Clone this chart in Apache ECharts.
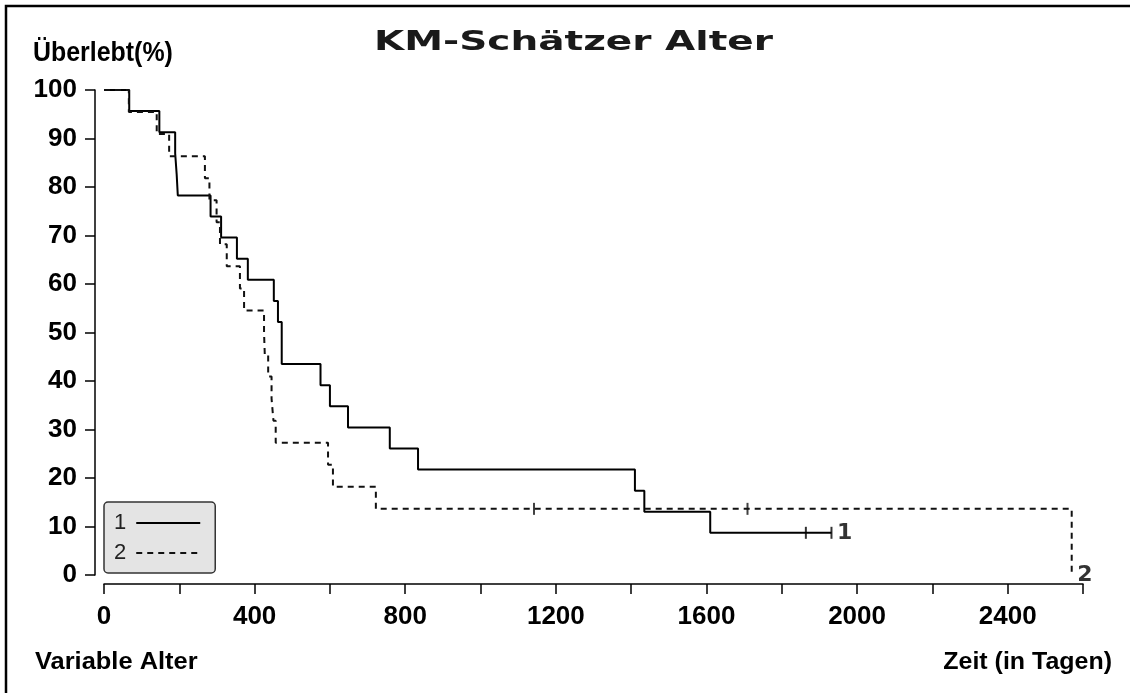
<!DOCTYPE html>
<html>
<head>
<meta charset="utf-8">
<script src="https://cdn.jsdelivr.net/npm/echarts@6/dist/echarts.min.js"></script>
<style>
  html, body { margin: 0; padding: 0; background: #fff; }
  #chart { width: 1130px; height: 693px; }
</style>
</head>
<body>
<div id="chart"></div>
<script>
// ---- Data ----
const titleText = 'KM-Schätzer Alter';
const yAxisTitle = 'Überlebt(%)';
const xAxisTitle = 'Zeit (in Tagen)';
const variableLabel = 'Variable Alter';
const groupNames = ['1', '2'];

// Group 1 (solid): event times (days) and survival (%)
const days1 = [0, 67, 147, 189, 193, 196, 283, 311, 353, 382, 451, 462, 472, 575, 600, 648, 759, 834, 1410, 1435, 1610, 1932];
const surv1 = [100, 95.65, 91.30, 86.96, 82.61, 78.26, 73.91, 69.57, 65.22, 60.87, 56.52, 52.17, 43.48, 39.13, 34.78, 30.43, 26.09, 21.74, 17.39, 13.04, 8.70, 8.70];
const cens1Days = [1864, 1932];
const cens1Surv = [8.70, 8.70];

// Group 2 (dashed)
const days2 = [0, 66, 140, 173, 268, 280, 299, 308, 326, 361, 372, 425, 427, 436, 445, 450, 456, 595, 608, 722, 2570];
const surv2 = [100, 95.45, 90.91, 86.36, 81.82, 77.27, 72.73, 68.18, 63.64, 59.09, 54.55, 50.00, 45.45, 40.91, 36.36, 31.82, 27.27, 22.73, 18.18, 13.64, 0];
const cens2Days = [1142, 1709];
const cens2Surv = [13.64, 13.64];

// Axis ticks
const xMin = 0, xMax = 2600, xTickStep = 200, xLabelStep = 400;
const yMin = 0, yMax = 100, yTickStep = 10;

// ---- Build ----
const zip = (a, b) => a.map((v, i) => [v, b[i]]);
const line1 = zip(days1, surv1);
const line2 = zip(days2, surv2);
const endLabels = [
  { value: [days1[days1.length - 1], surv1[surv1.length - 1]], name: groupNames[0] },
  { value: [days2[days2.length - 1], surv2[surv2.length - 1]], name: groupNames[1] }
];

const tickFont = '"Liberation Sans", Arial, sans-serif';

const chart = echarts.init(document.getElementById('chart'), null, { renderer: 'canvas' });
chart.setOption({
  animation: false,
  backgroundColor: '#ffffff',
  grid: { left: 104, right: 47, top: 90, bottom: 118, containLabel: false },
  xAxis: {
    type: 'value', min: xMin, max: xMax, interval: xTickStep, offset: 9,
    axisLine: { show: true, onZero: false, lineStyle: { color: '#000', width: 1.5 } },
    axisTick: { show: true, length: 10, lineStyle: { color: '#000', width: 1.5 } },
    axisLabel: {
      margin: 20, color: '#000', fontFamily: tickFont, fontWeight: 'bold', fontSize: 26,
      formatter: v => (v % xLabelStep === 0 ? String(v) : '')
    },
    splitLine: { show: false }
  },
  yAxis: {
    type: 'value', min: yMin, max: yMax, interval: yTickStep, offset: 9,
    axisLine: { show: true, onZero: false, lineStyle: { color: '#000', width: 1.5 } },
    axisTick: { show: true, length: 10, lineStyle: { color: '#000', width: 1.5 } },
    axisLabel: { margin: 18, color: '#000', fontFamily: tickFont, fontWeight: 'bold', fontSize: 26 },
    splitLine: { show: false }
  },
  legend: {
    data: groupNames,
    left: 104, top: 502,
    orient: 'vertical', align: 'right',
    itemWidth: 64, itemHeight: 14, itemGap: 8,
    padding: [10, 14, 9, 10],
    backgroundColor: '#e4e4e4', borderColor: '#333', borderWidth: 1.5, borderRadius: 4,
    selectedMode: false,
    itemStyle: { color: 'rgba(0,0,0,0)', borderWidth: 0, opacity: 0 },
    textStyle: { fontSize: 22, fontFamily: '"Liberation Sans", sans-serif', color: '#222', padding: [0, 5, 0, 0] }
  },
  series: [
    {
      name: groupNames[0], type: 'line', step: 'end', data: line1,
      symbol: 'none', showSymbol: false, clip: false,
      lineStyle: { color: '#000', width: 2, type: 'solid' },
      itemStyle: { color: '#000' }
    },
    {
      name: groupNames[1], type: 'line', step: 'end', data: line2,
      symbol: 'none', showSymbol: false, clip: false,
      lineStyle: { color: '#111', width: 2, type: [6, 5] },
      itemStyle: { color: '#111' }
    },
    {
      name: 'cens1', type: 'scatter', data: zip(cens1Days, cens1Surv),
      symbol: 'rect', symbolSize: [2, 12], itemStyle: { color: '#000' }, clip: false
    },
    {
      name: 'cens2', type: 'scatter', data: zip(cens2Days, cens2Surv),
      symbol: 'rect', symbolSize: [2, 12], itemStyle: { color: '#111' }, clip: false
    },
    {
      name: 'endLabels', type: 'scatter', data: endLabels,
      symbol: 'rect', symbolSize: 1, itemStyle: { color: 'rgba(0,0,0,0)' }, clip: false,
      label: {
        show: true, position: 'right', distance: 5,
        formatter: p => p.name,
        fontFamily: '"DejaVu Sans", sans-serif', fontWeight: 'bold', fontSize: 22, color: '#000'
      }
    }
  ],
  graphic: [
    {
      type: 'polyline', silent: true,
      shape: { points: [[6, 693], [6, 6], [1130, 6]] },
      style: { stroke: '#000', lineWidth: 2.5, fill: null }
    },
    {
      type: 'text', x: 573.5, y: 43, scaleX: 1.5, silent: true,
      style: {
        text: titleText, x: 0, y: 0, align: 'center', verticalAlign: 'middle',
        textAlign: 'center', textVerticalAlign: 'middle',
        font: 'bold 26px "DejaVu Sans", sans-serif', fill: '#1a1a1a'
      }
    },
    {
      type: 'text', x: 33, y: 53, scaleX: 0.89, silent: true,
      style: {
        text: yAxisTitle, x: 0, y: 0, align: 'left', verticalAlign: 'middle',
        textAlign: 'left', textVerticalAlign: 'middle',
        font: 'bold 28px "Liberation Sans", sans-serif', fill: '#000'
      }
    },
    {
      type: 'text', x: 35, y: 662, scaleX: 1.06, silent: true,
      style: {
        text: variableLabel, x: 0, y: 0, align: 'left', verticalAlign: 'middle',
        textAlign: 'left', textVerticalAlign: 'middle',
        font: 'bold 24px "Liberation Sans", sans-serif', fill: '#000'
      }
    },
    {
      type: 'text', x: 1112, y: 662, scaleX: 1.04, silent: true,
      style: {
        text: xAxisTitle, x: 0, y: 0, align: 'right', verticalAlign: 'middle',
        textAlign: 'right', textVerticalAlign: 'middle',
        font: 'bold 24px "Liberation Sans", sans-serif', fill: '#000'
      }
    }
  ]
});
</script>
</body>
</html>
